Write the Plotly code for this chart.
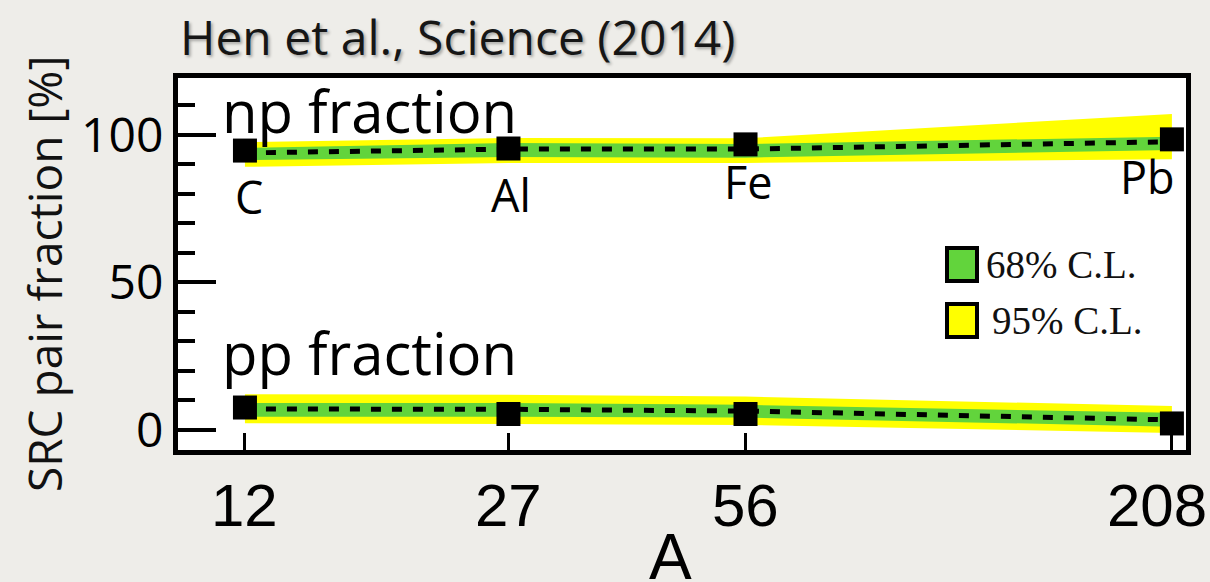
import numpy as np
import plotly.graph_objects as go

# Nuclei and mass numbers
nuclei = ["C", "Al", "Fe", "Pb"]
mass_A = [12, 27, 56, 208]

# Measured SRC pair fractions [%]
np_frac = [94.7, 95.4, 96.8, 98.5]
pp_frac = [7.6, 5.4, 5.4, 2.2]

# Fitted trend (dashed) and confidence bands [%]
np_fit = [93.9, 95.2, 95.2, 97.7]
np_68_hi = [95.6, 97.3, 96.9, 99.4]
np_68_lo = [91.5, 92.5, 92.3, 94.9]
np_95_hi = [97.6, 99.0, 98.9, 107.1]
np_95_lo = [89.2, 90.5, 90.5, 91.8]

pp_fit = [7.1, 7.0, 6.4, 3.4]
pp_68_hi = [9.1, 9.1, 8.5, 5.8]
pp_68_lo = [4.5, 4.5, 4.2, 1.1]
pp_95_hi = [12.1, 11.9, 11.3, 8.1]
pp_95_lo = [2.3, 2.0, 1.7, -1.0]

# Axis ticks
x_ticks = [12, 27, 56, 208]
x_tick_text = ["12", "27", "56", "208"]
y_ticks = [0, 50, 100]

GREEN = "#62d43c"
YELLOW = "#ffff00"
BG = "#eeede9"
SANS = "Open Sans, DejaVu Sans, sans-serif"
HELV = "Liberation Sans, Arial, sans-serif"

W, H = 1210, 582
L, R, T, B = 178, 24, 78, 132
pw, ph = W - L - R, H - T - B


def px_x(x):
    """Pixel column -> paper x."""
    return (x - L) / pw


def px_y(y):
    """Pixel row -> paper y."""
    return 1 - (y - T) / ph


fig = go.Figure()


def add_band(lo, hi, color):
    fig.add_trace(go.Scatter(x=mass_A, y=lo, mode="lines", line=dict(width=0, color=color),
                             showlegend=False, hoverinfo="skip"))
    fig.add_trace(go.Scatter(x=mass_A, y=hi, mode="lines", line=dict(width=0, color=color),
                             fill="tonexty", fillcolor=color, showlegend=False, hoverinfo="skip"))


for lo95, hi95, lo68, hi68, fit, meas in [
    (np_95_lo, np_95_hi, np_68_lo, np_68_hi, np_fit, np_frac),
    (pp_95_lo, pp_95_hi, pp_68_lo, pp_68_hi, pp_fit, pp_frac),
]:
    add_band(lo95, hi95, YELLOW)
    add_band(lo68, hi68, GREEN)
    fig.add_trace(go.Scatter(x=mass_A, y=fit, mode="lines",
                             line=dict(color="black", width=5, dash="10px,11px"),
                             showlegend=False, hoverinfo="skip"))
    fig.add_trace(go.Scatter(x=mass_A, y=meas, mode="markers",
                             marker=dict(symbol="square", size=24, color="black",
                                         line=dict(width=0)),
                             showlegend=False))

# Nucleus labels under the np points
label_dy = [-15.5, -15.5, -12.5, -12.5]
label_dx = [4, 3, 3, -24]
for name, a, v, dy, dx in zip(nuclei, mass_A, np_frac, label_dy, label_dx):
    fig.add_annotation(x=np.log10(a), y=v + dy, xref="x", yref="y", text=name,
                       showarrow=False, xshift=dx,
                       font=dict(family=SANS, size=45, color="black"))

# x tick labels below the frame; the last one is pulled left to stay on the page
for i, (a, txt) in enumerate(zip(x_ticks, x_tick_text)):
    last = i == len(x_ticks) - 1
    fig.add_annotation(x=np.log10(a), y=px_y(505), xref="x", yref="paper", text=txt,
                       showarrow=False, xanchor="center", yanchor="middle",
                       xshift=-15 if last else 0,
                       font=dict(family=HELV, size=60, color="black"))

# Series names inside the frame
for text, row in [("np fraction", 110), ("pp fraction", 352)]:
    fig.add_annotation(x=px_x(220), y=px_y(row), xref="paper", yref="paper",
                       text=text, showarrow=False, xanchor="left", yanchor="middle",
                       font=dict(family=SANS, size=58, color="black"))

# Legend drawn in the top-right corner of the frame
for (y0, y1, color, label, tx) in [(248, 281, GREEN, "68% C.L.", 984),
                                     (304, 337, YELLOW, "95% C.L.", 990)]:
    fig.add_shape(type="rect", xref="paper", yref="paper",
                  x0=px_x(947), x1=px_x(977), y0=px_y(y1), y1=px_y(y0),
                  fillcolor=color, line=dict(color="black", width=4))
    fig.add_annotation(x=px_x(tx), y=px_y((y0 + y1) / 2), xref="paper", yref="paper",
                       text=label, showarrow=False, xanchor="left", yanchor="middle",
                       font=dict(family="Liberation Serif, DejaVu Serif, serif",
                                 size=39, color="#111"))

# Title
fig.add_annotation(x=px_x(178), y=px_y(36), xref="paper", yref="paper",
                   text="Hen et al., Science (2014)", showarrow=False,
                   xanchor="left", yanchor="middle",
                   font=dict(family=SANS, size=48, color="#161616",
                             shadow="2px 2px 3px rgba(0,0,0,0.3)"))

# Axis titles
fig.add_annotation(x=px_x(44), y=px_y(274), xref="paper", yref="paper",
                   text="SRC pair fraction [%]", showarrow=False, textangle=-90,
                   xanchor="center", yanchor="middle",
                   font=dict(family=SANS, size=46, color="#111"))
fig.add_annotation(x=px_x(670), y=px_y(519), xref="paper", yref="paper",
                   text="A", showarrow=False, xanchor="center", yanchor="top",
                   font=dict(family=HELV, size=64, color="black"))

fig.update_layout(
    width=W, height=H,
    margin=dict(l=L, r=R, t=T, b=B, pad=0, autoexpand=False),
    paper_bgcolor=BG, plot_bgcolor="white",
    showlegend=False,
    xaxis=dict(type="log", range=[0.9897, 2.3369], tickvals=x_ticks, showticklabels=False,
               ticks="inside", ticklen=17, tickwidth=3, tickcolor="black",
               automargin=False,
               showline=True, linewidth=5, linecolor="black", mirror=True,
               showgrid=False, zeroline=False),
    yaxis=dict(range=[-6.8, 119.3], tickvals=y_ticks, automargin=False,
               ticks="inside", ticklen=38, tickwidth=4, tickcolor="black",
               minor=dict(dtick=10, tick0=0, ticks="inside", ticklen=17, tickwidth=4,
                          tickcolor="black", showgrid=False),
               showline=True, linewidth=5, linecolor="black", mirror=True,
               showgrid=False, zeroline=False,
               tickfont=dict(family=SANS, size=48, color="black")),
)

fig.write_html("out.html")
